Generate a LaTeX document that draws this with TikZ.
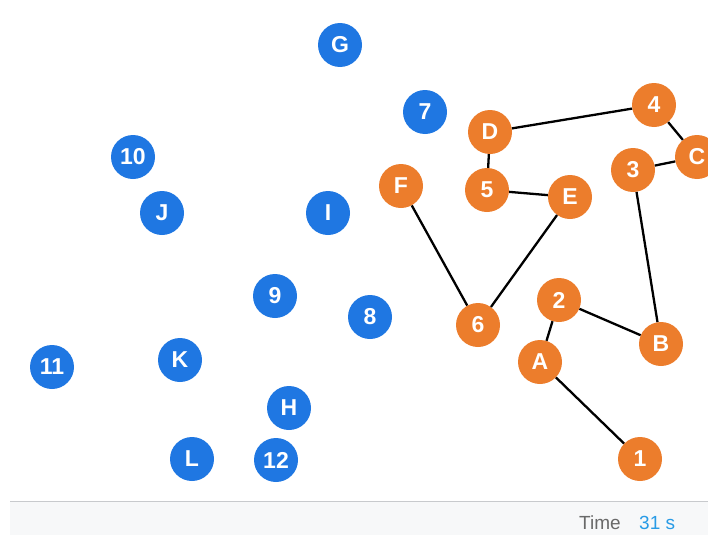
\documentclass[tikz,border=0pt]{standalone}
\usepackage{fontspec}
\setmainfont{Liberation Sans}
\definecolor{nodeblue}{RGB}{31,119,226}
\definecolor{nodeorange}{RGB}{236,125,44}
\definecolor{barbg}{RGB}{247,248,249}
\definecolor{barline}{RGB}{200,202,205}
\definecolor{timegray}{RGB}{105,105,105}
\definecolor{timeblue}{RGB}{40,155,230}
\begin{document}
\begin{tikzpicture}[x=1pt,y=-1pt,
  vtx/.style={circle,minimum size=44pt,inner sep=0pt,text=white,
    font=\fontsize{23}{23}\selectfont\bfseries},
  bluev/.style={vtx,fill=nodeblue},
  orangev/.style={vtx,fill=nodeorange},
  edge/.style={line width=2.3pt,black}]
\useasboundingbox (0,0) rectangle (708,535);
\clip (0,0) rectangle (708,535);
% status bar
\fill[barbg] (10,501) rectangle (708,535);
\draw[barline,line width=1pt] (10,501) -- (708,501);
\node[anchor=base west,inner sep=0pt,text=timegray,font=\fontsize{19}{19}\selectfont] (tl) at (579,529) {Time};
\node[anchor=base west,inner sep=0pt,text=timeblue,font=\fontsize{19}{19}\selectfont] (tv) at (639,529) {31 s};
% blue vertices
\node[bluev] (G) at (340,45) {G};
\node[bluev] (n7) at (425,112) {7};
\node[bluev] (n10) at (133,157) {10};
\node[bluev] (J) at (162,213) {J};
\node[bluev] (I) at (328,213) {I};
\node[bluev] (n9) at (275,296) {9};
\node[bluev] (n8) at (370,317) {8};
\node[bluev] (n11) at (52,367) {11};
\node[bluev] (K) at (180,360) {K};
\node[bluev] (H) at (289,408) {H};
\node[bluev] (L) at (192,459) {L};
\node[bluev] (n12) at (276,460) {12};
% orange vertices
\node[orangev] (D) at (490,132) {D};
\node[orangev] (n4) at (654,105) {4};
\node[orangev] (C) at (697,157) {C};
\node[orangev] (n3) at (633,170) {3};
\node[orangev] (F) at (401,186) {F};
\node[orangev] (n5) at (487,190) {5};
\node[orangev] (E) at (570,197) {E};
\node[orangev] (n2) at (559,300) {2};
\node[orangev] (B) at (661,344) {B};
\node[orangev] (n6) at (478,325) {6};
\node[orangev] (A) at (540,362) {A};
\node[orangev] (n1) at (640,459) {1};
% edges
\draw[edge] (D) -- (n4);
\draw[edge] (n4) -- (C);
\draw[edge] (C) -- (n3);
\draw[edge] (D) -- (n5);
\draw[edge] (n5) -- (E);
\draw[edge] (E) -- (n6);
\draw[edge] (F) -- (n6);
\draw[edge] (n3) -- (B);
\draw[edge] (n2) -- (B);
\draw[edge] (n2) -- (A);
\draw[edge] (A) -- (n1);
\end{tikzpicture}
\end{document}
